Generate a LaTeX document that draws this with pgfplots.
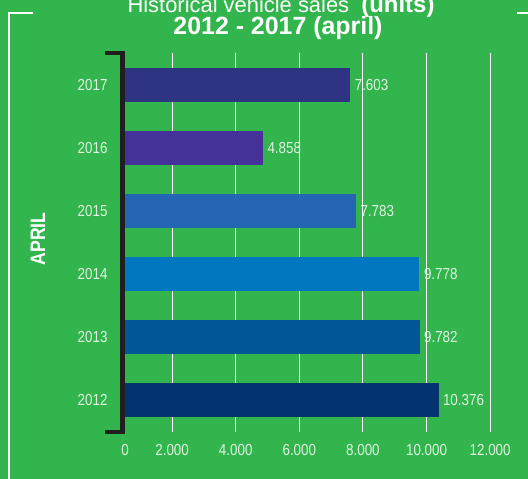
\documentclass[border=0pt]{standalone}
\usepackage{fontspec}
\setmainfont{Liberation Sans}
\newfontfamily\condfont{Liberation Sans}[FakeStretch=0.84]
\usepackage{pgfplots}
\pgfplotsset{compat=1.18}
\definecolor{bg}{RGB}{50,181,77}
\definecolor{lbl}{RGB}{225,242,225}
\definecolor{c2017}{RGB}{46,52,130}
\definecolor{c2016}{RGB}{69,49,152}
\definecolor{c2015}{RGB}{36,101,180}
\definecolor{c2014}{RGB}{0,119,190}
\definecolor{c2013}{RGB}{0,86,150}
\definecolor{c2012}{RGB}{4,52,111}
\begin{document}
\begin{tikzpicture}
\useasboundingbox (0,0) rectangle (528bp,479bp);
\clip (0,0) rectangle (528bp,479bp);
\fill[bg] (0,0) rectangle (528bp,479bp);
\draw[white, line width=2.5bp] (33bp,466bp) -- (9bp,466bp) -- (9bp,-5bp);
\draw[white, line width=2.5bp] (517bp,466bp) -- (535bp,466bp);
\node[anchor=base, text=white, inner sep=0] at (281bp,466.5bp)
  {\fontsize{22}{22}\selectfont Historical vehicle sales\ \ \textbf{\fontsize{24}{24}\selectfont (units)}};
\node[anchor=base, text=white, inner sep=0, font=\bfseries\fontsize{25}{25}\selectfont] at (278bp,444.5bp) {2012 - 2017 (april)};
\node[rotate=90, text=white, inner sep=0, font=\condfont\bfseries\fontsize{21}{21}\selectfont] at (38bp,240bp) {APRIL};
\begin{axis}[
  at={(125bp,47bp)}, anchor=south west, scale only axis,
  width=403bp, height=379bp,
  xbar, bar width=34bp, bar shift=0pt,
  xmin=519, xmax=13190, ymin=-0.5, ymax=5.5,
  ytick={0,1,2,3,4,5}, yticklabels={2012,2013,2014,2015,2016,2017},
  xtick={2000,4000,6000,8000,10000,12000},
  extra x ticks={519}, extra x tick labels={0},
  extra x tick style={grid=none},
  scaled x ticks=false,
  xmajorgrids, grid style={white, line width=1bp},
  axis line style={draw=none}, major tick length=0pt,
  tick label style={text=lbl, font=\condfont\fontsize{16}{16}\selectfont},
  yticklabel style={xshift=-14bp},
  xticklabel style={yshift=-9bp},
  /pgf/number format/1000 sep={.},
  /pgf/number format/assume math mode=true,
  nodes near coords,
  nodes near coords style={anchor=west, text=lbl, font=\condfont\fontsize{16}{16}\selectfont, xshift=1bp},
]
\addplot[fill=c2012, draw=none] coordinates {(10376,0)};
\addplot[fill=c2013, draw=none] coordinates {(9782,1)};
\addplot[fill=c2014, draw=none] coordinates {(9778,2)};
\addplot[fill=c2015, draw=none] coordinates {(7783,3)};
\addplot[fill=c2016, draw=none] coordinates {(4858,4)};
\addplot[fill=c2017, draw=none] coordinates {(7603,5)};
\end{axis}
\draw[black!88, line width=4.5bp]
  (105bp,426bp) -- (122.5bp,426bp) -- (122.5bp,47bp) -- (105bp,47bp);
\end{tikzpicture}
\end{document}
